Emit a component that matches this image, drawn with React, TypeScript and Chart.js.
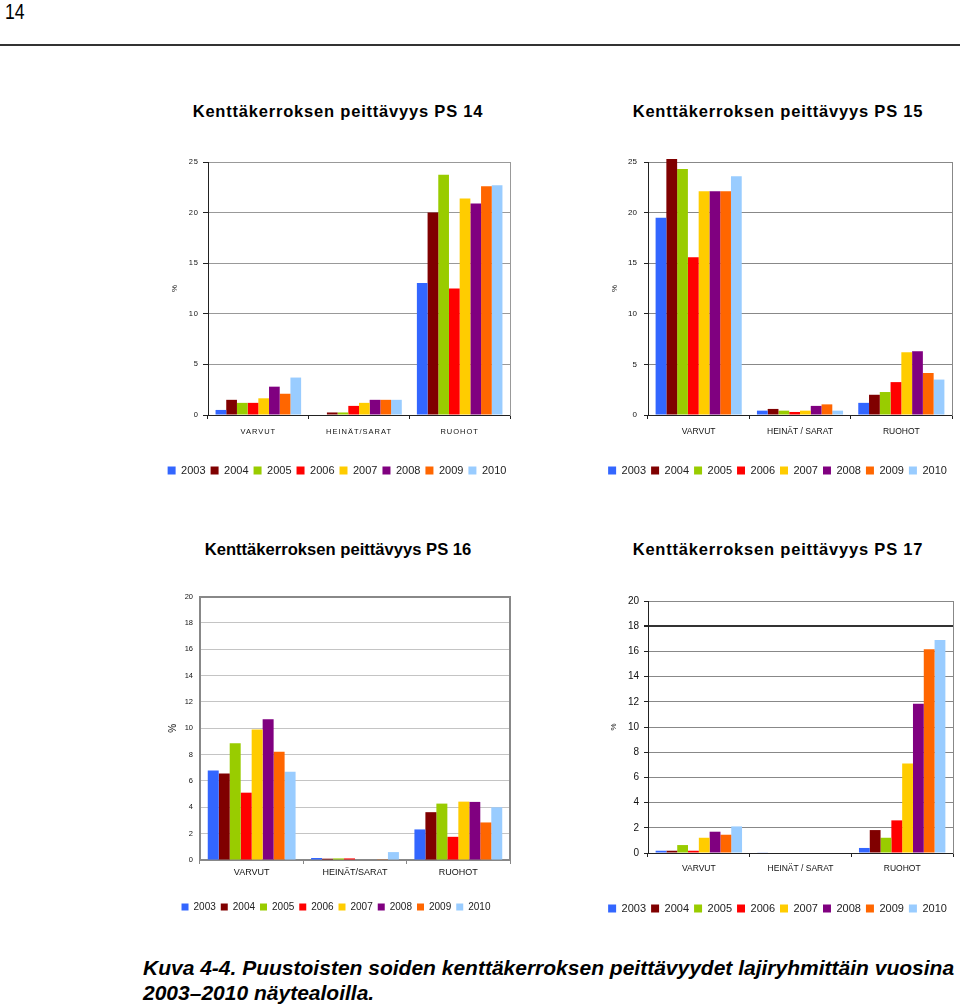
import React, { useEffect, useRef } from 'react';
import { Chart, registerables } from 'chart.js';

Chart.register(...registerables);

const FONT = "'Liberation Sans', Arial, sans-serif";

const years = ['2003', '2004', '2005', '2006', '2007', '2008', '2009', '2010'];
const yearColors = ['#3366FF', '#800000', '#99CC00', '#FF0000', '#FFCC00', '#800080', '#FF6600', '#99CCFF'];

const categoriesPS14 = ['VARVUT', 'HEINÄT/SARAT', 'RUOHOT'];
const categoriesPS15 = ['VARVUT', 'HEINÄT / SARAT', 'RUOHOT'];
const categoriesPS16 = ['VARVUT', 'HEINÄT/SARAT', 'RUOHOT'];
const categoriesPS17 = ['VARVUT', 'HEINÄT / SARAT', 'RUOHOT'];

// values per year (2003..2010): [VARVUT, HEINÄT/SARAT, RUOHOT], %
const ps14Values = [
  [0.5, 0, 13.05],
  [1.5, 0.25, 20.0],
  [1.2, 0.25, 23.75],
  [1.2, 0.9, 12.5],
  [1.65, 1.2, 21.4],
  [2.8, 1.5, 20.9],
  [2.1, 1.5, 22.6],
  [3.7, 1.5, 22.7],
];
const ps15Values = [
  [19.5, 0.43, 1.2],
  [25.3, 0.6, 2.0],
  [24.3, 0.43, 2.27],
  [15.6, 0.3, 3.25],
  [22.1, 0.43, 6.2],
  [22.1, 0.9, 6.3],
  [22.1, 1.05, 4.15],
  [23.6, 0.43, 3.5],
];
const ps16Values = [
  [6.8, 0.15, 2.32],
  [6.57, 0.1, 3.63],
  [8.87, 0.12, 4.28],
  [5.11, 0.12, 1.76],
  [9.9, 0.04, 4.43],
  [10.68, 0.04, 4.41],
  [8.21, 0.02, 2.85],
  [6.7, 0.6, 4.0],
];
const ps17Values = [
  [0.18, 0.05, 0.4],
  [0.18, 0, 1.82],
  [0.63, 0, 1.21],
  [0.18, 0, 2.59],
  [1.21, 0, 7.1],
  [1.69, 0, 11.85],
  [1.45, 0, 16.17],
  [2.11, 0, 16.9],
];

type Spec = {
  left: number; top: number; width: number; height: number;
  values: number[][]; labels: string[]; yMax: number; yStep: number;
  padTop: number; yAxisW: number; rightW: number; xAxisH: number;
  yTickFont: number; yTickLen: number; yTickPad: number;
  xFont: number; xTickLen: number; xTickPad: number;
  titleFont: number; titlePad: number;
  gridColor: (v: number) => string; gridWidth: (v: number) => number;
  axisColor: string; axisWidth: number; frameColor: string; frameWidth: number;
  legendFont: number; legendBox: number; legendPad: number;
  letterSpacing: number;
};

const specs: Spec[] = [
  {
    left: 160, top: 150, width: 354, height: 336,
    values: ps14Values, labels: categoriesPS14, yMax: 25, yStep: 5,
    padTop: 12, yAxisW: 48, rightW: 4, xAxisH: 45,
    yTickFont: 7.5, yTickLen: 5, yTickPad: 4,
    xFont: 7.5, xTickLen: 4, xTickPad: 8,
    titleFont: 8, titlePad: 10.2,
    gridColor: () => '#999999', gridWidth: () => 1,
    axisColor: '#222222', axisWidth: 1, frameColor: '#999999', frameWidth: 1,
    legendFont: 11, legendBox: 8, legendPad: 5, letterSpacing: 1,
  },
  {
    left: 600, top: 150, width: 355, height: 336,
    values: ps15Values, labels: categoriesPS15, yMax: 25, yStep: 5,
    padTop: 12, yAxisW: 48, rightW: 3, xAxisH: 45,
    yTickFont: 8, yTickLen: 4, yTickPad: 7,
    xFont: 8.5, xTickLen: 4, xTickPad: 8,
    titleFont: 8, titlePad: 10.2,
    gridColor: () => '#888888', gridWidth: () => 1,
    axisColor: '#222222', axisWidth: 1, frameColor: '#888888', frameWidth: 1,
    legendFont: 11, legendBox: 8, legendPad: 5, letterSpacing: 0,
  },
  {
    left: 160, top: 585, width: 352, height: 337,
    values: ps16Values, labels: categoriesPS16, yMax: 20, yStep: 2,
    padTop: 10, yAxisW: 40, rightW: 2, xAxisH: 37,
    yTickFont: 7.5, yTickLen: 0, yTickPad: 7,
    xFont: 9, xTickLen: 4, xTickPad: 3,
    titleFont: 10, titlePad: 7,
    gridColor: (v) => (v === 20 ? '#888888' : '#c4c4c4'), gridWidth: (v) => (v === 20 ? 2 : 1),
    axisColor: '#888888', axisWidth: 2, frameColor: '#888888', frameWidth: 2,
    legendFont: 10, legendBox: 7, legendPad: 5, letterSpacing: 0,
  },
  {
    left: 600, top: 590, width: 355, height: 334,
    values: ps17Values, labels: categoriesPS17, yMax: 20, yStep: 2,
    padTop: 10, yAxisW: 48, rightW: 2, xAxisH: 45,
    yTickFont: 10, yTickLen: 4, yTickPad: 5,
    xFont: 8.5, xTickLen: 4, xTickPad: 7,
    titleFont: 8, titlePad: 9.2,
    gridColor: (v) => (v === 18 ? '#333333' : '#888888'), gridWidth: (v) => (v === 18 ? 2 : 1),
    axisColor: '#222222', axisWidth: 1, frameColor: '#888888', frameWidth: 1,
    legendFont: 11, legendBox: 8, legendPad: 5, letterSpacing: 0,
  },
];

const titles = [
  { text: 'Kenttäkerroksen peittävyys PS 14', cx: 338, top: 100.6, size: 16.5, ls: 0.8 },
  { text: 'Kenttäkerroksen peittävyys PS 15', cx: 778, top: 100.6, size: 16.5, ls: 0.8 },
  { text: 'Kenttäkerroksen peittävyys PS 16', cx: 338, top: 539.5, size: 16.6, ls: 0 },
  { text: 'Kenttäkerroksen peittävyys PS 17', cx: 778, top: 539, size: 16.5, ls: 0.8 },
];

function BarChart({ spec }: { spec: Spec }) {
  const ref = useRef<HTMLCanvasElement | null>(null);
  useEffect(() => {
    if (!ref.current) return;
    const s = spec;
    const spacingPlugin = {
      id: 'tickSpacing',
      beforeDatasetsDraw(chart: any) {
        chart.ctx.letterSpacing = s.letterSpacing + 'px';
      },
      afterDraw(chart: any) {
        chart.ctx.letterSpacing = '0px';
      },
    };
    const chart = new Chart(ref.current, {
      type: 'bar',
      data: {
        labels: s.labels,
        datasets: years.map((y, i) => ({
          label: y,
          data: s.values[i],
          backgroundColor: yearColors[i],
          borderWidth: 0,
          categoryPercentage: 0.85,
          barPercentage: 1,
          clip: false as any,
        })),
      },
      options: {
        responsive: false,
        animation: false,
        devicePixelRatio: 1,
        layout: { padding: { top: s.padTop, left: 0, right: 0, bottom: 0 } },
        plugins: {
          tooltip: { enabled: false },
          title: { display: false },
          legend: {
            position: 'bottom',
            labels: {
              boxWidth: s.legendBox,
              boxHeight: s.legendBox,
              padding: s.legendPad,
              color: '#222222',
              font: { family: FONT, size: s.legendFont },
            },
          },
        },
        scales: {
          x: {
            offset: true,
            grid: {
              display: true,
              offset: true,
              drawOnChartArea: false,
              drawTicks: true,
              tickLength: s.xTickLen,
              color: s.axisColor,
              lineWidth: 1,
            },
            border: { display: true, color: s.axisColor, width: s.axisWidth },
            ticks: {
              color: '#111111',
              font: { family: FONT, size: s.xFont },
              padding: s.xTickPad,
              autoSkip: false,
              maxRotation: 0,
              minRotation: 0,
              z: 1,
            },
            afterFit: (sc: any) => { sc.height = s.xAxisH; },
          },
          y: {
            min: 0,
            max: s.yMax,
            grid: {
              color: (c: any) => s.gridColor(c.tick ? c.tick.value : -1),
              lineWidth: (c: any) => s.gridWidth(c.tick ? c.tick.value : -1),
              drawTicks: s.yTickLen > 0,
              tickLength: s.yTickLen,
              tickColor: s.axisColor,
            },
            border: { display: true, color: s.axisColor, width: s.axisWidth },
            ticks: {
              stepSize: s.yStep,
              color: '#111111',
              font: { family: FONT, size: s.yTickFont },
              padding: s.yTickPad,
              z: 1,
            },
            title: {
              display: true,
              text: '%',
              color: '#111111',
              font: { family: FONT, size: s.titleFont },
              padding: { top: s.titlePad, bottom: 0 },
            },
            afterFit: (sc: any) => { sc.width = s.yAxisW; },
          },
          y1: {
            position: 'right',
            display: true,
            grid: { drawOnChartArea: false, drawTicks: false },
            ticks: { display: false },
            border: { display: true, color: s.frameColor, width: s.frameWidth },
            afterFit: (sc: any) => { sc.width = s.rightW; },
          },
        },
      } as any,
      plugins: [spacingPlugin as any],
    });
    return () => chart.destroy();
  }, [spec]);
  return (
    <canvas
      ref={ref}
      width={spec.width}
      height={spec.height}
      style={{ position: 'absolute', left: spec.left, top: spec.top, width: spec.width, height: spec.height }}
    />
  );
}

export default function App() {
  return (
    <div
      style={{
        position: 'absolute',
        left: 0,
        top: 0,
        width: 960,
        height: 1004,
        overflow: 'hidden',
        background: '#ffffff',
        fontFamily: FONT,
        color: '#000000',
      }}
    >
      <div
        style={{
          position: 'absolute',
          left: 5,
          top: 1.4,
          fontSize: 22,
          lineHeight: '22px',
          transform: 'scaleX(0.8)',
          transformOrigin: 'left top',
        }}
      >
        14
      </div>
      <div style={{ position: 'absolute', left: 0, top: 44, width: 960, height: 2, background: '#333333' }} />
      {titles.map((t) => (
        <div
          key={t.text}
          style={{
            position: 'absolute',
            left: t.cx - 200,
            width: 400,
            top: t.top,
            textAlign: 'center',
            fontWeight: 'bold',
            fontSize: t.size,
            lineHeight: '20px',
            letterSpacing: t.ls,
            whiteSpace: 'nowrap',
          }}
        >
          {t.text}
        </div>
      ))}
      {specs.map((s, i) => (
        <BarChart key={i} spec={s} />
      ))}
      <div
        style={{
          position: 'absolute',
          left: 143,
          top: 955,
          fontWeight: 'bold',
          fontStyle: 'italic',
          fontSize: 21,
          lineHeight: '25px',
          whiteSpace: 'nowrap',
        }}
      >
        <div>Kuva 4-4. Puustoisten soiden kenttäkerroksen peittävyydet lajiryhmittäin vuosina</div>
        <div>2003–2010 näytealoilla.</div>
      </div>
    </div>
  );
}
